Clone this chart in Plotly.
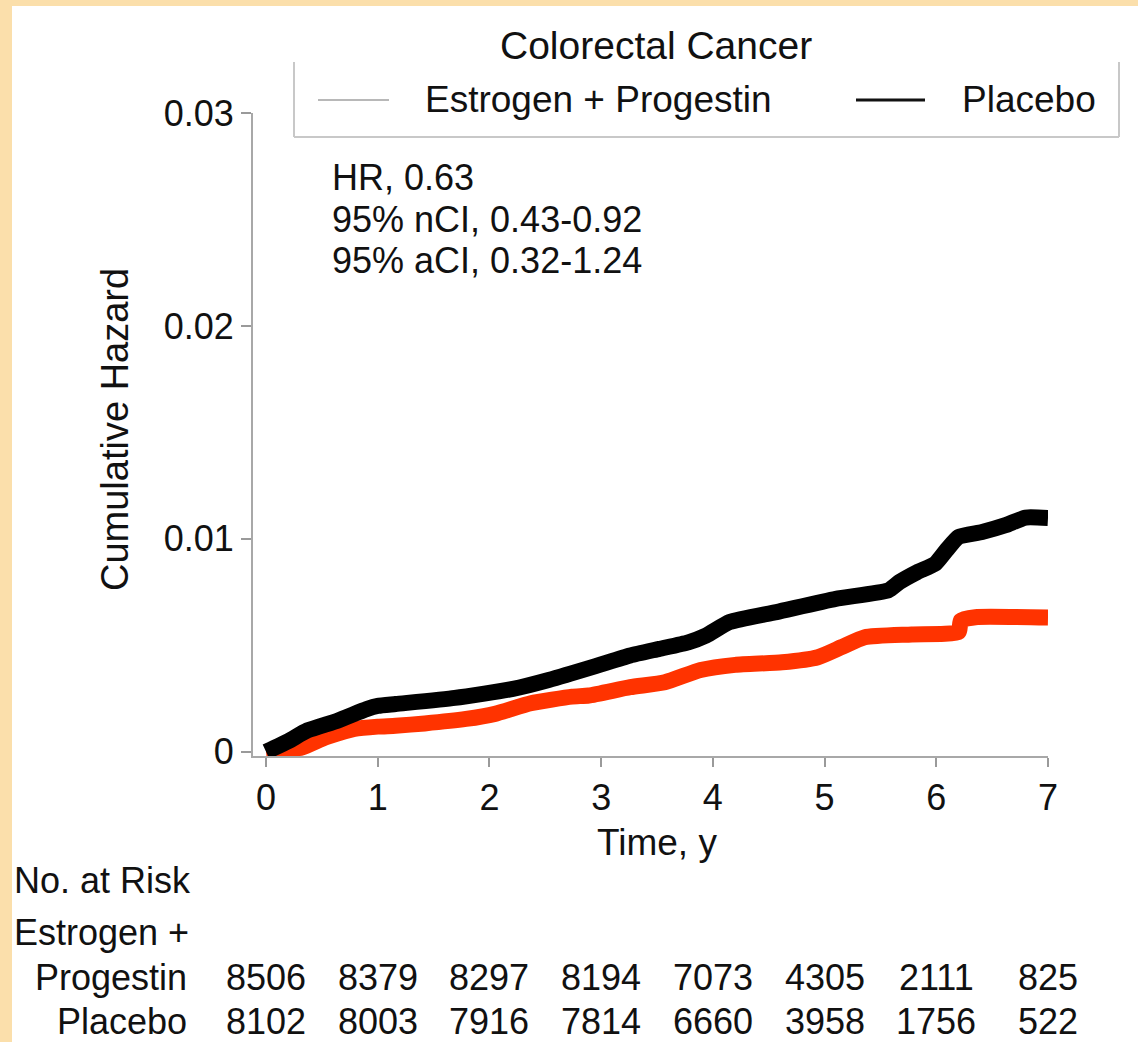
import plotly.graph_objects as go

# Cumulative hazard curves (time in years)
placebo_t = [0.0, 0.2, 0.37, 0.64, 0.9, 1.0, 1.16, 1.69, 2.21, 2.53, 2.95, 3.26, 3.52,
             3.78, 3.94, 4.15, 4.57, 5.1, 5.57, 5.67, 5.83, 5.99, 6.09, 6.2, 6.41, 6.62,
             6.8, 7.0]
placebo_h = [0.0, 0.0005, 0.001, 0.00146, 0.002, 0.00215, 0.00224, 0.00253, 0.00295,
             0.00337, 0.00402, 0.00452, 0.00483, 0.00514, 0.00546, 0.00609, 0.00656,
             0.00718, 0.00758, 0.00797, 0.00844, 0.00883, 0.00946, 0.01009, 0.01032,
             0.01064, 0.0110, 0.01098]

ep_t = [0.0, 0.32, 0.53, 0.79, 1.0, 1.16, 1.42, 1.79, 2.05, 2.37, 2.74, 2.89, 3.26,
        3.57, 3.89, 4.2, 4.62, 4.94, 5.15, 5.36, 5.78, 6.2, 6.22, 6.35, 7.0]
ep_h = [0.0, 0.0002, 0.00067, 0.00107, 0.00118, 0.00122, 0.00133, 0.00154, 0.00178,
        0.00228, 0.00259, 0.00264, 0.00303, 0.00326, 0.00384, 0.00408, 0.0042, 0.00444,
        0.00491, 0.00538, 0.00551, 0.00562, 0.00616, 0.00632, 0.00630]

# Number at risk at each year
risk_years = [0, 1, 2, 3, 4, 5, 6, 7]
risk_ep = [8506, 8379, 8297, 8194, 7073, 4305, 2111, 825]
risk_placebo = [8102, 8003, 7916, 7814, 6660, 3958, 1756, 522]

stats_lines = ["HR, 0.63", "95% nCI, 0.43-0.92", "95% aCI, 0.32-1.24"]

y_ticks = [0, 0.01, 0.02, 0.03]
y_tick_text = ["0", "0.01", "0.02", "0.03"]

W, H = 1138, 1042
L, R, T, B = 253, 1048, 113, 756  # plot area in pixels
FONT = "Liberation Sans, Arial, Helvetica, sans-serif"
FS = 36
INK = "#111111"


def xp(px):
    return (px - L) / (R - L)


def yp(py):
    return (B - py) / (B - T)


fig = go.Figure()

fig.add_trace(go.Scatter(
    x=ep_t, y=ep_h, mode="lines", name="Estrogen + Progestin",
    line=dict(color="#ff3300", width=16, shape="spline", smoothing=0.5),
    showlegend=False, hoverinfo="skip"))
fig.add_trace(go.Scatter(
    x=placebo_t, y=placebo_h, mode="lines", name="Placebo",
    line=dict(color="#000000", width=16, shape="spline", smoothing=0.5),
    showlegend=False, hoverinfo="skip"))

shapes = []
annotations = []

# beige frame along left and top edges
shapes.append(dict(type="rect", xref="paper", yref="paper", layer="below",
                   x0=xp(0), x1=xp(12), y0=yp(H), y1=yp(0),
                   fillcolor="#fbdfab", line=dict(width=0)))
shapes.append(dict(type="rect", xref="paper", yref="paper", layer="below",
                   x0=xp(0), x1=xp(W), y0=yp(6), y1=yp(0),
                   fillcolor="#fbdfab", line=dict(width=0)))

# legend box (left, right, bottom edges)
box_l, box_r, box_t, box_b = 294, 1119, 62, 137
for x0, y0, x1, y1 in [(box_l, box_t, box_l, box_b), (box_r, box_t, box_r, box_b),
                       (box_l, box_b, box_r, box_b)]:
    shapes.append(dict(type="line", xref="paper", yref="paper",
                       x0=xp(x0), y0=yp(y0), x1=xp(x1), y1=yp(y1),
                       line=dict(color="#c8c8c8", width=2)))
# legend samples
shapes.append(dict(type="line", xref="paper", yref="paper",
                   x0=xp(318), x1=xp(389), y0=yp(100), y1=yp(100),
                   line=dict(color="#b8b8b8", width=2)))
shapes.append(dict(type="line", xref="paper", yref="paper",
                   x0=xp(856), x1=xp(925), y0=yp(100), y1=yp(100),
                   line=dict(color="#111111", width=3)))


def text(s, x, y, xanchor="center", yanchor="middle", size=FS, angle=0):
    annotations.append(dict(text=s, x=xp(x), y=yp(y), xref="paper", yref="paper",
                            xanchor=xanchor, yanchor=yanchor, showarrow=False,
                            textangle=angle,
                            font=dict(family=FONT, size=size, color=INK)))


text("Colorectal Cancer", 656, 45, size=39)
text("Estrogen + Progestin", 423, 100, xanchor="left", size=37)
text("Placebo", 960, 100, xanchor="left", size=37)

for i, s in enumerate(stats_lines):
    text(s, 330, 178 + 41 * i, xanchor="left")

text("Cumulative Hazard", 115, 430, angle=-90, size=38)
text("Time, y", 657, 842, size=37)

# number-at-risk table
text("No. at Risk", 12, 880, xanchor="left")
text("Estrogen +", 12, 932, xanchor="left")
text("Progestin", 189, 977, xanchor="right")
text("Placebo", 189, 1021, xanchor="right")
for yr, a, b in zip(risk_years, risk_ep, risk_placebo):
    annotations.append(dict(text=str(a), x=yr, xref="x", y=yp(977), yref="paper",
                            xanchor="center", yanchor="middle", showarrow=False,
                            font=dict(family=FONT, size=FS, color=INK)))
    annotations.append(dict(text=str(b), x=yr, xref="x", y=yp(1021), yref="paper",
                            xanchor="center", yanchor="middle", showarrow=False,
                            font=dict(family=FONT, size=FS, color=INK)))

fig.update_layout(
    width=W, height=H,
    margin=dict(l=L, r=W - R, t=T, b=H - B, pad=0),
    paper_bgcolor="#ffffff", plot_bgcolor="#ffffff",
    showlegend=False,
    shapes=shapes, annotations=annotations,
    font=dict(family=FONT, size=FS, color=INK),
)
fig.update_xaxes(
    range=[-0.117, 7.0], tickvals=risk_years, ticks="outside", ticklen=9,
    tickwidth=2, tickcolor="#9a9a9a", showline=True, linecolor="#a8a8a8",
    linewidth=2, showgrid=False, zeroline=False,
    tickfont=dict(family=FONT, size=FS, color=INK))
fig.update_yaxes(
    range=[-0.0002, 0.03], tickvals=y_ticks, ticktext=y_tick_text, ticks="outside",
    ticklen=10, tickwidth=2, tickcolor="#9a9a9a", showline=True, linecolor="#a8a8a8",
    linewidth=2, showgrid=False, zeroline=False,
    tickfont=dict(family=FONT, size=FS, color=INK))

fig.write_html("out.html")
